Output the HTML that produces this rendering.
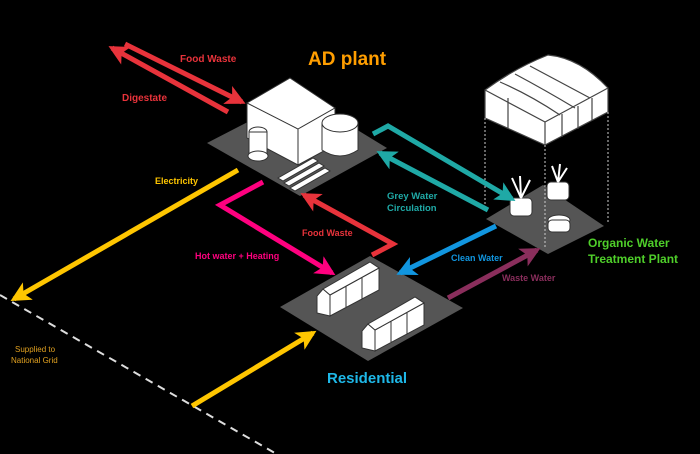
<!DOCTYPE html>
<html><head><meta charset="utf-8"><style>
html,body{margin:0;padding:0;background:#000;}
svg{display:block}
text{font-family:"Liberation Sans",Arial,sans-serif;font-weight:bold}
</style></head><body>
<svg width="700" height="454" viewBox="0 0 700 454" xmlns="http://www.w3.org/2000/svg">
<defs>
<marker id="ah" viewBox="0 0 10 10" refX="8" refY="5" markerWidth="4" markerHeight="4" orient="auto" markerUnits="strokeWidth"><path d="M0,0 L10,5 L0,10 L2.5,5 Z" fill="context-stroke"/></marker>
</defs>
<rect width="700" height="454" fill="#000"/>
<line x1="0" y1="295" x2="280" y2="456" stroke="#ddd" stroke-width="2" stroke-dasharray="8,6"/>

<polygon points="207,143 300,95 387,148 300,196" fill="#555"/>
<polygon points="280,307 370,256 463,308 368,361" fill="#555"/>
<polygon points="486,219 543,185 604,226 548,254" fill="#555"/>

<g fill="#fff" stroke="#333" stroke-width="1">
<polygon points="247,103 290,78 335,108 335,115 298,137 247,110"/>
<polygon points="247,103 298,129 298,165 247,138"/>
<polygon points="298,129 335,108 335,145 298,165"/>
<ellipse cx="258" cy="132" rx="9" ry="5"/>
<rect x="249" y="132" width="18" height="24"/>
<ellipse cx="258" cy="156" rx="10" ry="5"/>
<path d="M322,123 L322,150 Q340,162 358,150 L358,123 Z"/>
<ellipse cx="340" cy="123" rx="18" ry="9"/>
<polygon points="278,178 313,158 318,161 283,181"/>
<polygon points="284,183 319,163 324,166 289,186"/>
<polygon points="290,188 325,168 330,171 295,191"/>
</g>

<g fill="#fff" stroke="#333" stroke-width="1">
<polygon points="317,313 317,296 323,289 330,295 330,316"/>
<polygon points="330,316 330,295 379,268 379,290"/>
<polygon points="323,289 370,262 379,268 330,295"/>
<line x1="346" y1="286" x2="346" y2="307"/><line x1="362" y1="277" x2="362" y2="299"/>
<polygon points="362,348 362,331 368,324 375,330 375,351"/>
<polygon points="375,351 375,330 424,303 424,325"/>
<polygon points="368,324 415,297 424,303 375,330"/>
<line x1="391" y1="321" x2="391" y2="342"/><line x1="407" y1="312" x2="407" y2="334"/>
</g>

<g fill="#fff" stroke="#444" stroke-width="1.2">
<path d="M485,90 Q515,68 548,55 Q580,58 608,88 L608,112 L545,145 L485,118 Z"/>
<path d="M485,90 L545,122 L545,145 M545,122 L608,88" fill="none"/>
<path d="M500,82 Q530,95 560,115 M515,74 Q545,90 575,108 M530,66 Q560,82 590,98" fill="none"/>
<path d="M562,114 L562,137 M578,106 L578,129 M592,98 L592,120 M508,98 L508,128" fill="none"/>
</g>
<g stroke="#ccc" stroke-width="1" stroke-dasharray="2,2">
<line x1="485" y1="118" x2="485" y2="210"/><line x1="545" y1="145" x2="545" y2="248"/><line x1="608" y1="112" x2="608" y2="222"/>
</g>
<g fill="#fff" stroke="#333">
<rect x="510" y="198" width="22" height="18" rx="4"/>
<rect x="547" y="182" width="22" height="18" rx="4"/>
<ellipse cx="559" cy="220" rx="11" ry="5"/>
<rect x="548" y="220" width="22" height="12" rx="4"/>
<path d="M521,198 L512,178 M521,198 L520,176 M521,198 L530,180 M558,182 L552,166 M558,182 L560,164 M558,182 L567,168" fill="none" stroke="#fff" stroke-width="2"/>
</g>

<g fill="none" stroke-width="5" marker-end="url(#ah)">
<line x1="125" y1="44" x2="242" y2="102" stroke="#e8333b"/>
<line x1="228" y1="112" x2="112" y2="48" stroke="#e8333b"/>
<line x1="238" y1="170" x2="14" y2="299" stroke="#ffc600"/>
<line x1="192" y1="406" x2="313" y2="333" stroke="#ffc600"/>
<polyline points="263,182 220,205 332,273" stroke="#ff007f"/>
<polyline points="372,255 393,244 304,195" stroke="#e8333b"/>
<polyline points="373,134 388,126 512,199" stroke="#1fa9a6"/>
<line x1="488" y1="210" x2="380" y2="153" stroke="#1fa9a6"/>
<line x1="496" y1="226" x2="400" y2="273" stroke="#1196e0"/>
<line x1="448" y1="298" x2="537" y2="250" stroke="#8a2e5c"/>
</g>

<text x="180" y="62" font-size="10" fill="#e8333b">Food Waste</text>
<text x="122" y="101" font-size="10" fill="#e8333b">Digestate</text>
<text x="308" y="65" font-size="19" fill="#ff9e00">AD plant</text>
<text x="155" y="184" font-size="9" fill="#ffc600">Electricity</text>
<text x="195" y="259" font-size="9" fill="#ff007f">Hot water + Heating</text>
<text x="302" y="236" font-size="9" fill="#e8333b">Food Waste</text>
<text x="387" y="199" font-size="9.5" fill="#1fa9a6">Grey Water</text>
<text x="387" y="211" font-size="9.5" fill="#1fa9a6">Circulation</text>
<text x="451" y="261" font-size="9" fill="#1196e0">Clean Water</text>
<text x="502" y="281" font-size="9" fill="#8a2e5c">Waste Water</text>
<text x="588" y="247" font-size="12" fill="#4fcf2a">Organic Water</text>
<text x="588" y="263" font-size="12" fill="#4fcf2a">Treatment Plant</text>
<text x="327" y="383" font-size="15" fill="#1eb8e8">Residential</text>
<text x="15" y="352" font-size="8" fill="#e0a020" style="font-weight:normal">Supplied to</text>
<text x="11" y="363" font-size="8" fill="#e0a020" style="font-weight:normal">National Grid</text>
</svg>
</body></html>
